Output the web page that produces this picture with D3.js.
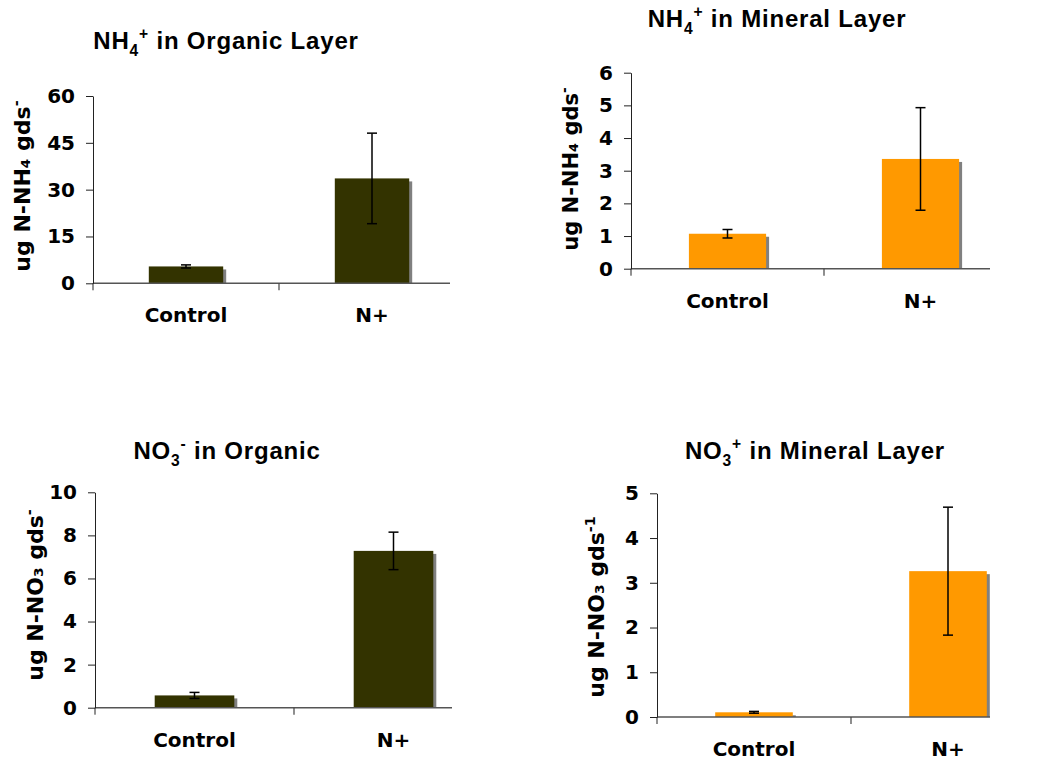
<!DOCTYPE html>
<html>
<head>
<meta charset="UTF-8">
<title>NH4 and NO3 by layer</title>
<script src="https://cdn.jsdelivr.net/npm/d3@7"></script>
<style>
    body { margin: 0; background: #fff; }
    .axis text {
        font-family: "DejaVu Sans", Verdana, sans-serif;
        font-weight: bold;
        font-size: 20px;
        fill: #000;
    }
    .axis { color: #222; }
    .title {
        font-family: "Liberation Sans", Arial, sans-serif;
        font-weight: bold;
        letter-spacing: 0.8px;
        fill: #000;
    }
    .ylabel {
        font-family: "DejaVu Sans", Verdana, sans-serif;
        font-weight: bold;
        fill: #000;
    }
</style>
</head>
<body>
<svg id="svg"></svg>
<script>

var WIDTH = 1041;
var HEIGHT = 761;

// data
var categories = ["Control", "N+"];

var nh4Organic = [5.4, 33.6];
var nh4OrganicErr = [0.5, 14.5];
var nh4OrganicTicks = [0, 15, 30, 45, 60];

var nh4Mineral = [1.07, 3.36];
var nh4MineralErr = [0.13, 1.57];
var nh4MineralTicks = [0, 1, 2, 3, 4, 5, 6];

var no3Organic = [0.57, 7.28];
var no3OrganicErr = [0.14, 0.87];
var no3OrganicTicks = [0, 2, 4, 6, 8, 10];

var no3Mineral = [0.105, 3.26];
var no3MineralErr = [0.02, 1.43];
var no3MineralTicks = [0, 1, 2, 3, 4, 5];

var OLIVE = "#333300";
var ORANGE = "#ff9900";

var svg = d3.select('#svg')
            .attr("width", WIDTH)
            .attr("height", HEIGHT);

// text with sub / superscript pieces
function richText(el, parts, size){
    var shift = 0;
    parts.forEach(function(pt){
        var target = pt[1] === 'sub' ? size*0.28 : (pt[1] === 'sup' ? -size*0.42 : 0);
        el.append('tspan')
          .attr('dy', target - shift)
          .attr('font-size', pt[1] ? size*0.65 : size)
          .text(pt[0]);
        shift = target;
    });
}

function drawPanel(p){
    var g = svg.append('g');

    var x = d3.scaleBand()
              .domain(categories)
              .range([p.left, p.left + categories.length*p.step])
              .paddingInner(0.6)
              .paddingOuter(0.3);
    var y = d3.scaleLinear()
              .domain([0, d3.max(p.ticks)])
              .range([p.bottom, p.top]);

    var data = categories.map(function(c, i){
        return {cat: c, v: p.values[i], e: p.errs[i]};
    });

    // drop shadow behind the bars
    g.selectAll('rect.shadow')
     .data(data)
     .enter()
     .append('rect')
     .attr('class', 'shadow')
     .attr('x', function(d){ return x(d.cat) + 3; })
     .attr('y', function(d){ return y(d.v) + 3; })
     .attr('width', x.bandwidth())
     .attr('height', function(d){ return Math.max(0, y(0) - y(d.v) - 3); })
     .attr('fill', '#808080');

    g.selectAll('rect.bar')
     .data(data)
     .enter()
     .append('rect')
     .attr('class', 'bar')
     .attr('x', function(d){ return x(d.cat); })
     .attr('y', function(d){ return y(d.v); })
     .attr('width', x.bandwidth())
     .attr('height', function(d){ return y(0) - y(d.v); })
     .attr('fill', p.color);

    // x axis line, clipped at the plot edge
    g.append('line')
     .attr('x1', p.left).attr('x2', p.axisEnd)
     .attr('y1', y(0)).attr('y2', y(0))
     .attr('stroke', '#555')
     .attr('stroke-width', 1.5);

    // category separator ticks
    d3.range(1, categories.length).forEach(function(i){
        var bx = x.range()[0] + i*x.step();
        g.append('line')
         .attr('x1', bx).attr('x2', bx)
         .attr('y1', y(0)).attr('y2', y(0) + 7)
         .attr('stroke', '#444')
         .attr('stroke-width', 1.2);
    });

    var yAxis = d3.axisLeft(y)
                  .tickValues(p.ticks)
                  .tickFormat(d3.format("d"))
                  .tickSize(7)
                  .tickSizeOuter(0)
                  .tickPadding(11);
    g.append('g')
     .attr('class', 'axis')
     .attr('transform', 'translate(' + p.left + ',0)')
     .call(yAxis);
    g.append('line')
     .attr('x1', p.left).attr('x2', p.left)
     .attr('y1', y(0)).attr('y2', y(0) + 7)
     .attr('stroke', '#222');

    var xAxis = d3.axisBottom(x)
                  .tickSize(0)
                  .tickPadding(25);
    var xg = g.append('g')
              .attr('class', 'axis')
              .attr('transform', 'translate(0,' + y(0) + ')')
              .call(xAxis);
    xg.select('.domain').remove();

    // error bars
    var eb = g.selectAll('g.err')
              .data(data)
              .enter()
              .append('g')
              .attr('class', 'err')
              .attr('stroke', '#000')
              .attr('stroke-width', 1.5);
    eb.append('line')
      .attr('x1', function(d){ return x(d.cat) + x.bandwidth()/2; })
      .attr('x2', function(d){ return x(d.cat) + x.bandwidth()/2; })
      .attr('y1', function(d){ return y(d.v - d.e); })
      .attr('y2', function(d){ return y(d.v + d.e); });
    [-1, 1].forEach(function(s){
        eb.append('line')
          .attr('x1', function(d){ return x(d.cat) + x.bandwidth()/2 - 5; })
          .attr('x2', function(d){ return x(d.cat) + x.bandwidth()/2 + 5; })
          .attr('y1', function(d){ return y(d.v + s*d.e); })
          .attr('y2', function(d){ return y(d.v + s*d.e); });
    });

    var t = g.append('text')
             .attr('class', 'title')
             .attr('x', p.titleX)
             .attr('y', p.titleY)
             .attr('text-anchor', 'middle');
    richText(t, p.title, 24);

    var yl = g.append('text')
              .attr('class', 'ylabel')
              .attr('text-anchor', 'middle')
              .attr('transform', 'translate(' + p.labelX + ',' + p.labelY + ') rotate(-90)');
    richText(yl, p.label, p.labelSize);
}

drawPanel({
    left: 93, step: 186, axisEnd: 450, top: 96, bottom: 283.3,
    ticks: nh4OrganicTicks, values: nh4Organic, errs: nh4OrganicErr, color: OLIVE,
    title: [["NH"], ["4", "sub"], ["+", "sup"], [" in Organic Layer"]], titleX: 226, titleY: 49,
    label: [["ug N-NH₄ gds"], ["-", "sup"]], labelX: 30, labelY: 186, labelSize: 22
});

drawPanel({
    left: 631, step: 193, axisEnd: 990, top: 72.7, bottom: 268.7,
    ticks: nh4MineralTicks, values: nh4Mineral, errs: nh4MineralErr, color: ORANGE,
    title: [["NH"], ["4", "sub"], ["+", "sup"], [" in Mineral Layer"]], titleX: 777, titleY: 27,
    label: [["ug N-NH₄ gds"], ["-", "sup"]], labelX: 578, labelY: 169, labelSize: 21
});

drawPanel({
    left: 95, step: 199, axisEnd: 452, top: 492.3, bottom: 707.7,
    ticks: no3OrganicTicks, values: no3Organic, errs: no3OrganicErr, color: OLIVE,
    title: [["NO"], ["3", "sub"], ["-", "sup"], [" in Organic"]], titleX: 227, titleY: 459,
    label: [["ug N-NO₃ gds"], ["-", "sup"]], labelX: 43, labelY: 595, labelSize: 22
});

drawPanel({
    left: 657, step: 194, axisEnd: 990, top: 493.3, bottom: 717,
    ticks: no3MineralTicks, values: no3Mineral, errs: no3MineralErr, color: ORANGE,
    title: [["NO"], ["3", "sub"], ["+", "sup"], [" in Mineral Layer"]], titleX: 815, titleY: 459,
    label: [["ug N-NO₃ gds"], ["-1", "sup"]], labelX: 604, labelY: 607, labelSize: 22
});

</script>
</body>
</html>
